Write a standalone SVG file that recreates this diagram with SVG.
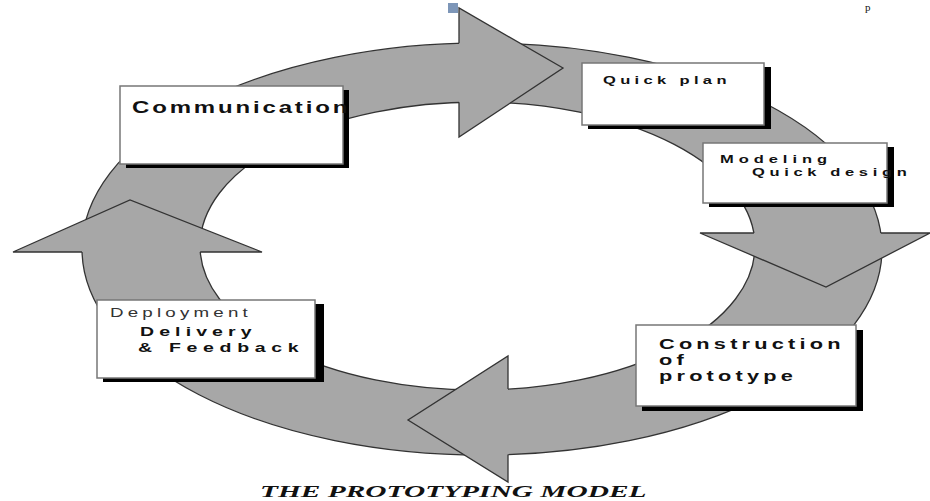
<svg xmlns="http://www.w3.org/2000/svg" width="930" height="501" viewBox="0 0 930 501">
<style>
.ring{fill:#a7a7a7;stroke:#333;stroke-width:1.3;fill-rule:evenodd}
.head{fill:#a7a7a7;stroke:none}
.edge{fill:none;stroke:#333;stroke-width:1.3;stroke-linejoin:miter}
.box{fill:#fff;stroke:#777;stroke-width:1.5}
.shadow{fill:#000}
.lbl{font-family:"Liberation Sans",Arial,sans-serif;font-weight:bold;fill:#111}
.reg{font-family:"Liberation Sans",Arial,sans-serif;font-weight:normal;fill:#333}
.title{font-family:"Liberation Serif","Times New Roman",serif;font-weight:bold;font-style:italic;font-size:17.5px;fill:#111}
</style>
<rect x="0" y="0" width="930" height="501" fill="#fff"/>
<rect x="448" y="3" width="10" height="10" fill="#7d96b8"/>
<text x="865" y="11" style="font-family:'Liberation Serif',serif;font-size:11px;fill:#111">p</text>
<g id="connectors">
<path class="ring" d="M82,249 A400,206 0 1,0 882,249 A400,206 0 1,0 82,249 Z M200,246 A277.5,144 0 1,0 755,246 A277.5,144 0 1,0 200,246 Z"/>
<polygon class="head" points="459,8 563,68 459,137"/>
<polyline class="edge" points="459,43.3 459,8 563,68 459,137 459,102.3"/>
<polygon class="head" points="700,233 930,233 826,287"/>
<polyline class="edge" points="753.9,233 700,233 826,287 930,233 880.8,233"/>
<polygon class="head" points="508,356 408,420 508,482"/>
<polyline class="edge" points="508,389.1 508,356 408,420 508,482 508,454.6"/>
<polygon class="head" points="13,252 130,200 262,252"/>
<polyline class="edge" points="82,252 13,252 130,200 262,252 200.2,252"/>
</g>
<g id="communication">
<rect class="shadow" x="126" y="90" width="223" height="78"/>
<rect class="box" x="120" y="86" width="223" height="78"/>
<text class="lbl" font-size="16" letter-spacing="1.9" transform="translate(132,113) scale(1.5,1)">Communication</text>
</g>
<g id="quick-plan">
<rect class="shadow" x="588" y="67" width="183" height="62"/>
<rect class="box" x="582" y="63" width="182" height="62"/>
<text class="lbl" font-size="11" letter-spacing="2.9" transform="translate(603,84) scale(1.5,1)">Quick plan</text>
</g>
<g id="modeling">
<rect class="shadow" x="709" y="147" width="185" height="60"/>
<rect class="box" x="703" y="143" width="184" height="60"/>
<text class="lbl" font-size="11" letter-spacing="3.3" transform="translate(720,163) scale(1.5,1)">Modeling</text>
<text class="lbl" font-size="11" letter-spacing="3.1" transform="translate(752,176) scale(1.5,1)">Quick design</text>
</g>
<g id="construction">
<rect class="shadow" x="642" y="330" width="221" height="81"/>
<rect class="box" x="636" y="325" width="220" height="81"/>
<text class="lbl" font-size="14.5" letter-spacing="2.8" transform="translate(659,349) scale(1.5,1)">Construction</text>
<text class="lbl" font-size="14.5" letter-spacing="2.8" transform="translate(659,365) scale(1.5,1)">of</text>
<text class="lbl" font-size="14.5" letter-spacing="2.8" transform="translate(659,381) scale(1.5,1)">prototype</text>
</g>
<g id="deployment">
<rect class="shadow" x="103" y="304" width="221" height="78"/>
<rect class="box" x="97" y="300" width="218" height="78"/>
<text class="reg" font-size="12.5" letter-spacing="2.8" transform="translate(110,317) scale(1.5,1)">Deployment</text>
<text class="lbl" font-size="13" letter-spacing="3.4" transform="translate(140,336) scale(1.5,1)">Delivery</text>
<text class="lbl" font-size="13" letter-spacing="3.8" transform="translate(138,352) scale(1.5,1)">&amp; Feedback</text>
</g>
<text class="title" transform="translate(260,497) scale(1.68,1)">THE PROTOTYPING MODEL</text>
</svg>
